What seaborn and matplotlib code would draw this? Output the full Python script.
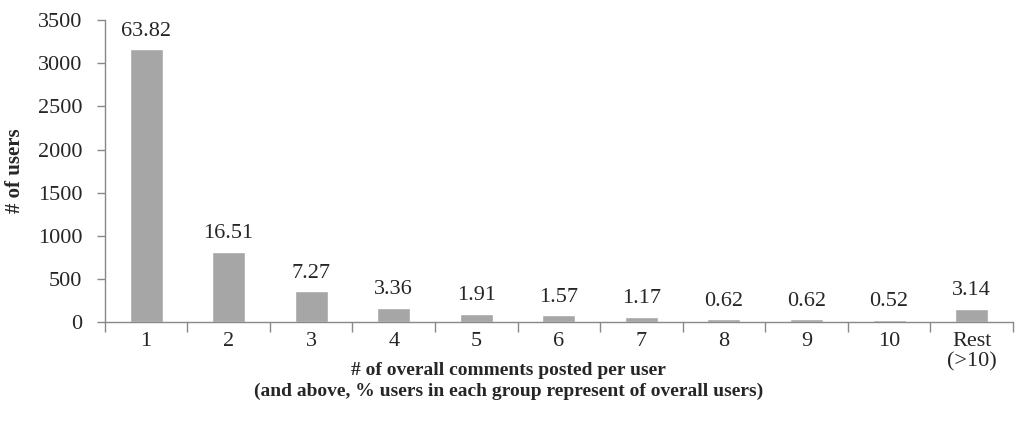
import matplotlib
matplotlib.use("Agg")
import matplotlib.pyplot as plt
import pandas as pd
import seaborn as sns

# data
groups = ["1", "2", "3", "4", "5", "6", "7", "8", "9", "10", "Rest\n(>10)"]
users = [3160, 815, 355, 166, 95, 78, 58, 31, 31, 26, 150]
share = ["63.82", "16.51", "7.27", "3.36", "1.91", "1.57", "1.17", "0.62", "0.62", "0.52", "3.14"]

df = pd.DataFrame({"group": groups, "users": users})

sns.set_style("white")
plt.rcParams["font.family"] = ["Liberation Serif", "DejaVu Serif"]

fig = plt.figure(figsize=(10.17, 4.37), dpi=100)
ax = fig.add_axes([0.103, 0.263, 0.893, 0.691])

sns.barplot(data=df, x="group", y="users", color="#A6A6A6", width=0.4,
            saturation=1, ax=ax)

for i, (v, s) in enumerate(zip(users, share)):
    ax.text(i, v + 100, s, ha="center", va="bottom", fontsize=16)

ax.set_xlim(-0.5, len(groups) - 0.5)
ax.set_ylim(0, 3500)
ax.set_yticks(range(0, 3501, 500))

# boundary ticks below the axis, labels centred under bars
ax.set_xticks([i - 0.5 for i in range(len(groups) + 1)])
ax.set_xticklabels([])
ax.set_xticks(range(len(groups)), minor=True)
ax.set_xticklabels(groups, minor=True, fontsize=16, linespacing=1.1)
ax.tick_params(axis="x", which="major", direction="out", length=7, width=1,
               color="#888888", bottom=True)
ax.tick_params(axis="x", which="minor", length=0, pad=7)
ax.tick_params(axis="y", direction="out", length=6, width=1, color="#888888",
               left=True, labelsize=16, pad=10)

sns.despine(ax=ax, top=True, right=True)
for side in ["left", "bottom"]:
    ax.spines[side].set_color("#888888")
    ax.spines[side].set_linewidth(1)

ax.set_ylabel("# of users", fontsize=15, fontweight="bold")
ax.yaxis.set_label_coords(-0.088, 0.5)
ax.set_xlabel("# of overall comments posted per user\n"
              "(and above, % users in each group represent of overall users)",
              fontsize=14, fontweight="bold", linespacing=1.25)
ax.xaxis.set_label_coords(0.445, -0.133)

fig.savefig("out.png", dpi=100)
plt.close(fig)
